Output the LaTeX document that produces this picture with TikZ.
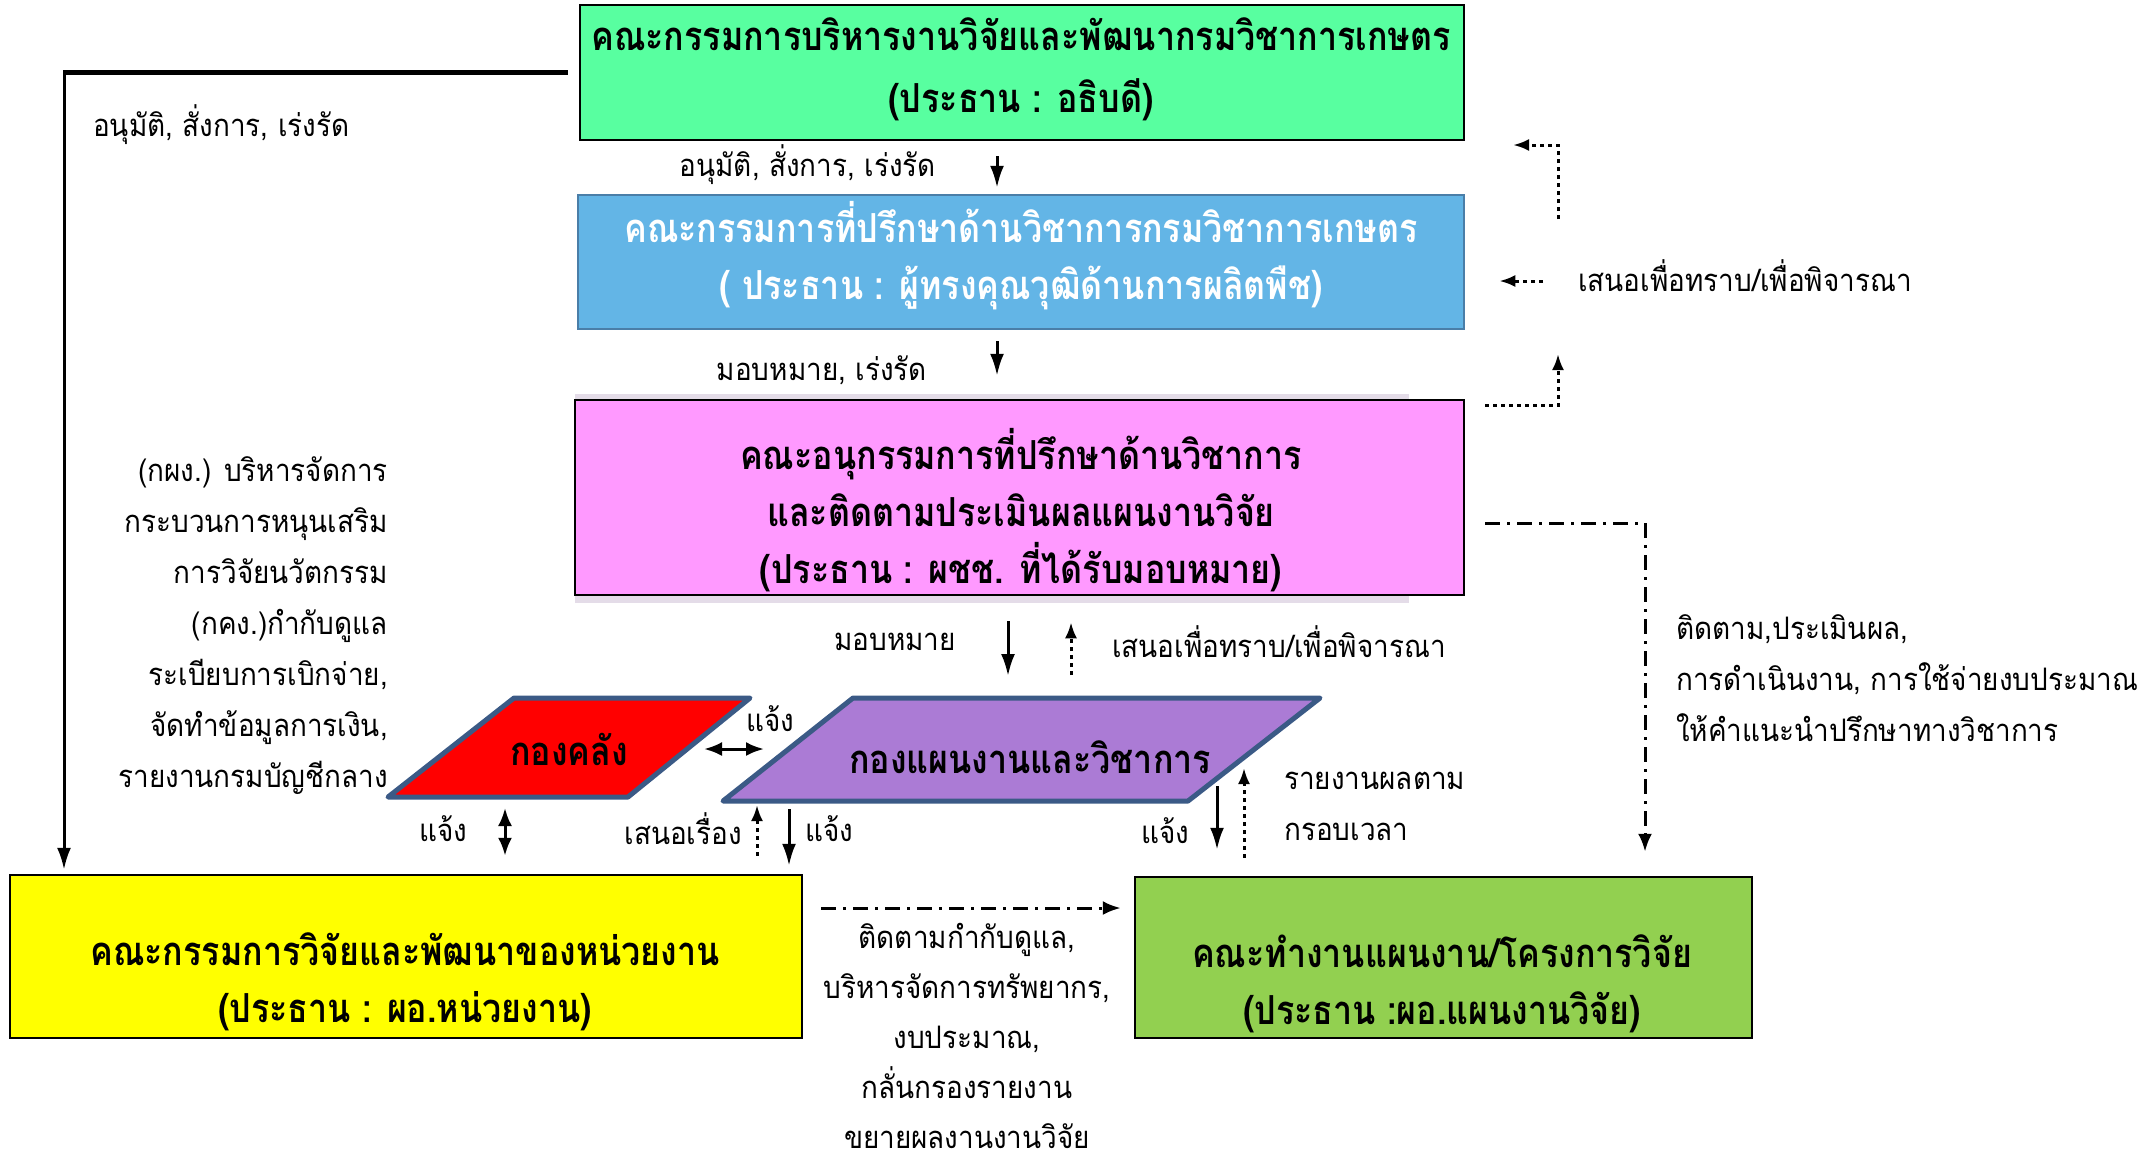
\documentclass[tikz,border=0pt]{standalone}
\usepackage{fontspec}
\setmainfont[Script=Thai]{Loma}
\newfontfamily\boxfont[Script=Thai, FakeStretch=0.85]{Loma}
\newfontfamily\lblfont[Script=Thai, FakeStretch=0.9]{Loma}
\usetikzlibrary{arrows.meta}
\definecolor{mint}{HTML}{58FFA0}
\definecolor{skyb}{HTML}{63B5E6}
\definecolor{skyborder}{HTML}{4A7EA8}
\definecolor{pinkb}{HTML}{FF99FF}
\definecolor{shadowc}{HTML}{E4DCE8}
\definecolor{parab}{HTML}{3B5A86}
\definecolor{purp}{HTML}{AB7BD5}
\definecolor{yel}{HTML}{FFFF00}
\definecolor{leaf}{HTML}{92D050}
\begin{document}
\begin{tikzpicture}[x=1pt,y=-1pt,
  box/.style={draw=black, line width=2.5pt, inner sep=0pt},
  btxt/.style={align=center, inner sep=0pt, font=\boxfont\bfseries\fontsize{40}{57}\selectfont},
  lbl/.style={inner sep=0pt, font=\lblfont\fontsize{31}{51}\selectfont},
  arr/.style={line width=3pt, -{Latex[length=22pt,width=14pt]}},
  darr/.style={line width=3pt, {Latex[length=18pt,width=14pt]}-{Latex[length=18pt,width=14pt]}},
  dotarr/.style={line width=3pt, dash pattern=on 4pt off 4pt, -{Latex[length=16pt,width=12pt]}},
  ddarr/.style={line width=3pt, dash pattern=on 15pt off 7pt on 3pt off 7pt, -{Latex[length=18pt,width=14pt]}},
  para/.style={line width=5pt, draw=parab, line join=round}
]
\useasboundingbox (0,0) rectangle (2151,1160);
% shadow behind pink box
\fill[shadowc] (575,394) rectangle (1409,603);
% boxes
\node[box, fill=mint, minimum width=884pt, minimum height=135pt] (top) at (1022,72.5) {};
\node[box, draw=skyborder, fill=skyb, minimum width=886pt, minimum height=134pt] (blue) at (1021,262) {};
\node[box, fill=pinkb, minimum width=889pt, minimum height=195pt] (pink) at (1019.5,497.5) {};
\node[box, fill=yel, minimum width=792pt, minimum height=163pt] (yellow) at (406,956.5) {};
\node[box, fill=leaf, minimum width=617pt, minimum height=161pt] (leafbox) at (1443.5,957.5) {};
% box texts
\node[btxt, font=\boxfont\bfseries\fontsize{40}{62}\selectfont] (topT) at (1021,69) {คณะกรรมการบริหารงานวิจัยและพัฒนากรมวิชาการเกษตร\\(ประธาน : อธิบดี)};
\node[btxt, text=white] (blueT) at (1021,256) {คณะกรรมการที่ปรึกษาด้านวิชาการกรมวิชาการเกษตร\\( ประธาน : ผู้ทรงคุณวุฒิด้านการผลิตพืช)};
\node[btxt] (pinkT) at (1021,510) {คณะอนุกรรมการที่ปรึกษาด้านวิชาการ\\และติดตามประเมินผลแผนงานวิจัย\\(ประธาน : ผชช. ที่ได้รับมอบหมาย)};
\node[btxt] (yelT) at (405,982) {คณะกรรมการวิจัยและพัฒนาของหน่วยงาน\\(ประธาน : ผอ.หน่วยงาน)};
\node[btxt] (leafT) at (1442,984) {คณะทำงานแผนงาน/โครงการวิจัย\\(ประธาน :ผอ.แผนงานวิจัย)};
% parallelograms
\coordinate (rBL) at (388,797); \coordinate (rTL) at (514,698);
\coordinate (rTR) at (750,698); \coordinate (rBR) at (628,797);
\coordinate (pBL) at (723,801); \coordinate (pTL) at (853,698);
\coordinate (pTR) at (1320,698); \coordinate (pBR) at (1188,801);
\draw[para, fill=red] (rBL) -- (rTL) -- (rTR) -- (rBR) -- cycle;
\draw[para, fill=purp] (pBL) -- (pTL) -- (pTR) -- (pBR) -- cycle;
\node[btxt] (klT) at (569,749) {กองคลัง};
\node[btxt] (planT) at (1030,757) {กองแผนงานและวิชาการ};
% edge points on the parallelograms
\coordinate (rE) at (685,749); \coordinate (pW) at (789,749);
\coordinate (rS) at (505,797);
\coordinate (pS1) at (757,801); \coordinate (pS2) at (789,801);
\coordinate (pE1) at (1217,778); \coordinate (pE2) at (1244,757);
\coordinate (pN1) at (1008,698); \coordinate (pN2) at (1071,698);
% free ends
\coordinate (lc) at (64,72.5);
\coordinate (ru1) at (1558,354);
\coordinate (ru2) at (1558,219);
\coordinate (ru3) at (1513,145);
% left long connector
\draw[line width=4.5pt] ([xshift=-11pt]top.west) -- ([xshift=-1.5pt]lc);
\draw[arr, shorten >=4pt] (lc) -- (lc |- yellow.north);
% vertical arrows in the centre column
\draw[arr, shorten <=15pt, shorten >=6pt] ([xshift=-25pt]top.south) -- ([xshift=-24pt]blue.north);
\draw[arr, shorten <=11pt, shorten >=23pt] ([xshift=-24pt]blue.south) -- ([xshift=-22.5pt]pink.north);
\draw[arr, shorten <=25pt, shorten >=22pt] (pink.south -| pN1) -- (pN1);
\draw[dotarr, shorten <=23pt, shorten >=26pt] (pN2) -- (pink.south -| pN2);
% right dotted feedback
\draw[dotarr] ([xshift=20pt,yshift=-7pt]pink.north east) -| (ru1);
\draw[dotarr] (ru2) |- (ru3);
% dash-dot connectors
\draw[ddarr] ([xshift=20pt,yshift=-25.5pt]pink.east) -| ([xshift=201.5pt,yshift=24pt]leafbox.north);
\draw[ddarr] ([xshift=18pt,yshift=48.5pt]yellow.east) -- ([xshift=-13pt,yshift=49.5pt]leafbox.west);
% parallelogram connectors
\draw[darr, shorten <=19pt, shorten >=25pt] (rE) -- (pW);
\draw[darr, shorten <=11pt, shorten >=18pt] (rS) -- (rS |- yellow.north);
\draw[dotarr, shorten <=18pt, shorten >=4pt] (pS1 |- yellow.north) -- (pS1);
\draw[arr, shorten <=8pt, shorten >=8pt] (pS2) -- (pS2 |- yellow.north);
\draw[arr, shorten <=8pt, shorten >=26pt] (pE1) -- (pE1 |- leafbox.north);
\draw[dotarr, shorten <=18pt, shorten >=11pt] (pE2 |- leafbox.north) -- (pE2);
% labels
\node[lbl, anchor=west] (l1) at (93,125) {อนุมัติ, สั่งการ, เร่งรัด};
\node[lbl, anchor=east] (l2) at (936,165) {อนุมัติ, สั่งการ, เร่งรัด};
\node[lbl, anchor=east] (l3) at (927,370) {มอบหมาย, เร่งรัด};
\node[lbl, anchor=west] (l4) at (1578,276) {เสนอเพื่อทราบ/เพื่อพิจารณา};
\draw[dotarr] ([xshift=-35pt,yshift=-5pt]l4.west) -- ([xshift=34pt,yshift=-19pt]blue.east);
\node[lbl, anchor=east, align=right] (l5) at (388,626) {(กผง.) บริหารจัดการ\\กระบวนการหนุนเสริม\\การวิจัยนวัตกรรม\\(กคง.)กำกับดูแล\\ระเบียบการเบิกจ่าย,\\จัดทำข้อมูลการเงิน,\\รายงานกรมบัญชีกลาง};
\node[lbl, anchor=east] (l6) at (956,642) {มอบหมาย};
\node[lbl, anchor=west] (l7) at (1112,642) {เสนอเพื่อทราบ/เพื่อพิจารณา};
\node[lbl] (l8) at (770,719) {แจ้ง};
\node[lbl] (l9) at (443,829) {แจ้ง};
\node[lbl, anchor=east] (l10) at (742,829) {เสนอเรื่อง};
\node[lbl, anchor=west] (l11) at (805,829) {แจ้ง};
\node[lbl] (l12) at (1165,831) {แจ้ง};
\node[lbl, anchor=west, align=left] (l13) at (1284,806) {รายงานผลตาม\\กรอบเวลา};
\node[lbl, anchor=west, align=left] (l14) at (1676,678.5) {ติดตาม,ประเมินผล,\\การดำเนินงาน, การใช้จ่ายงบประมาณ\\ให้คำแนะนำปรึกษาทางวิชาการ};
\node[lbl, align=center, font=\lblfont\fontsize{31}{50}\selectfont] (l15) at (967,1036) {ติดตามกำกับดูแล,\\บริหารจัดการทรัพยากร,\\งบประมาณ,\\กลั่นกรองรายงาน\\ขยายผลงานงานวิจัย};
\end{tikzpicture}
\end{document}
